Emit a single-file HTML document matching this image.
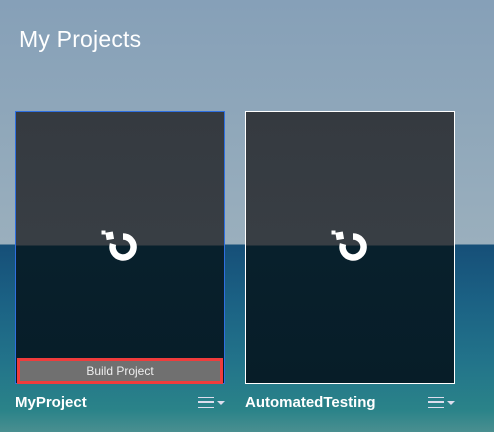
<!DOCTYPE html>
<html><head><style>
*{margin:0;padding:0;box-sizing:border-box}
body{width:494px;height:432px;overflow:hidden;position:relative;font-family:"Liberation Sans",sans-serif;
background:linear-gradient(to bottom,#86a0b8 0px,#8fa7ba 120px,#9aafbd 244px,#164f78 245px,#1b6184 300px,#22738a 360px,#2a8389 410px,#4a8f90 432px);}
.title{position:absolute;left:19px;top:26px;color:#fff;font-size:23px;letter-spacing:0.2px}
.card{position:absolute;top:111px;width:210px;height:273px;border:1px solid #fff;
background:linear-gradient(to bottom,#353a40 0,#383e44 133px,#08202c 134px,#071d28 100%)}
.c1{left:15px;border-color:#2f6fe0}
.c2{left:245px}
.lbl{position:absolute;top:394px;color:#fff;font-weight:bold;font-size:15px}
.menu{position:absolute;top:397px;width:16px;height:11px;border-top:1.5px solid #dde;border-bottom:1.5px solid #dde}
.menu:before{content:"";position:absolute;left:0;top:3px;width:16px;height:1.5px;background:#dde}
.menu:after{content:"";position:absolute;left:19px;top:3px;border-left:4px solid transparent;border-right:4px solid transparent;border-top:4px solid #dde}
.btn{position:absolute;left:17px;top:358px;width:206px;height:26px;border:3px solid #f03c3c;background:#707070;color:#eee;font-size:12px;text-align:center;line-height:20px}
</style></head><body>
<div class="title">My Projects</div>
<div class="card c1"></div>
<div class="card c2"></div>
<svg style="position:absolute;left:0;top:0" width="494" height="432">
<g fill="none" stroke="#fff" stroke-width="6.5">
<path d="M123 236.5 A10.5 10.5 0 1 1 113 244"/>
<path d="M353 236.5 A10.5 10.5 0 1 1 343 244"/>
</g>
<g fill="#fff">
<rect x="106" y="232" width="7.5" height="7.5" transform="rotate(-10 110 236)"/><rect x="101.5" y="230.5" width="4" height="4"/>
<rect x="336" y="232" width="7.5" height="7.5" transform="rotate(-10 340 236)"/><rect x="331.5" y="230.5" width="4" height="4"/>
</g>
</svg>
<div class="btn">Build Project</div>
<div class="lbl" style="left:15px">MyProject</div>
<div class="lbl" style="left:245px">AutomatedTesting</div>
<div class="menu" style="left:198px"></div>
<div class="menu" style="left:428px"></div>
</body></html>
